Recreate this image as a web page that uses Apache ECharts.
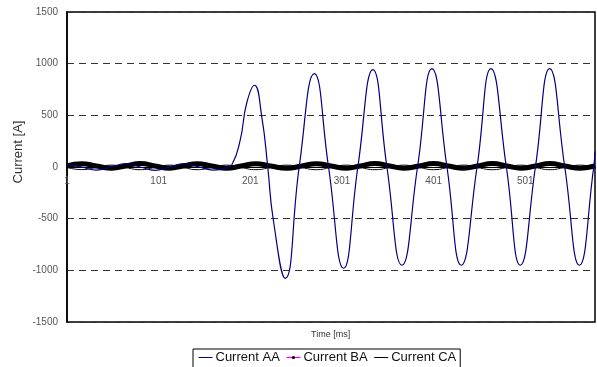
<!DOCTYPE html>
<html>
<head>
<meta charset="utf-8">
<script src="https://cdn.jsdelivr.net/npm/echarts@6/dist/echarts.min.js"></script>
<style>html,body{margin:0;padding:0;background:#fff}#c{width:597px;height:367px}</style>
</head>
<body>
<div id="c"></div>
<script>
// Sample index (0-based; tick label shows index+1) and current in A
const seriesNames = ['Current AA', 'Current BA', 'Current CA'];
const yTicks = [-1500, -1000, -500, 0, 500, 1000, 1500];

const currentAA = [
  [0, 28], [16, 0], [32, -30], [48, 0], [64, 32], [80, 0], [96, -32], [112, 0], [128, 33], [144, 0],
  [160, -30], [172, -14], [180, 25], [189, 262], [196, 617], [204.5, 791], [212.5, 486], [219, 0],
  [225, -508], [238, -1077], [253.3, 0],
  [269.8, 904], [285.3, 0], [301.7, -980], [317.3, 0], [333.7, 943], [349, 0],
  [365.4, -951], [382.4, 0], [398.1, 952], [414.5, 0], [430.1, -951], [447.3, 0],
  [462.5, 952], [479.3, 0], [494.5, -951], [511, 0], [526.5, 952], [543, 0],
  [559, -951], [574.6, 0], [576, 150]
];

const currentBA = [
  [0, 10], [16, 32], [32, 10], [49, -12], [64, 10], [80, 33], [96, 10], [112, -12], [127, 10],
  [142, 32], [158, 10], [174, -12], [190, 10], [206, 32], [222, 10], [240, -12], [256, 10],
  [272, 32], [288, 10], [305, -12], [320, 10], [336, 33], [352, 10], [367, -12], [384, 10],
  [400, 33], [416, 10], [433, -12], [448, 10], [464, 33], [480, 10], [495, -12], [511, 10],
  [527, 33], [543, 10], [560, -12], [576, 10]
];

const currentCA = [
  [0, -5], [16, -25], [32, -5], [49, 18], [64, -5], [80, -26], [96, -5], [112, 18], [127, -5],
  [142, -26], [158, -5], [174, 18], [190, -5], [206, -26], [222, -5], [240, 18], [256, -5],
  [272, -26], [288, -5], [305, 18], [320, -5], [336, -26], [352, -5], [367, 18], [384, -5],
  [400, -26], [416, -5], [433, 18], [448, -5], [464, -26], [480, -5], [495, 18], [511, -5],
  [527, -26], [543, -5], [560, 18], [576, -5]
];

const GRID_TOP = 12, GRID_BOTTOM = 45, H = 367;
const plotH = H - GRID_TOP - GRID_BOTTOM;
// place the x axis at y = 0 (middle of symmetric y range)
const zeroOffset = -plotH * (0 - yTicks[0]) / (yTicks[yTicks.length - 1] - yTicks[0]);

const chart = echarts.init(document.getElementById('c'), null, {renderer: 'canvas'});
const FONT = 'Liberation Sans, Arial, sans-serif';
const noSym = {opacity: 0, color: 'rgba(0,0,0,0)', borderWidth: 0};
chart.setOption({
  animation: false,
  backgroundColor: '#fff',
  textStyle: {fontFamily: FONT},
  title: {
    text: 'Time [ms]',
    left: 311, top: 330,
    textStyle: {fontSize: 9, fontWeight: 'normal', color: '#333', fontFamily: FONT},
    padding: 0
  },
  grid: {
    left: 67, right: 2, top: GRID_TOP, bottom: GRID_BOTTOM,
    show: true, borderColor: '#000', borderWidth: 1.5, backgroundColor: 'transparent'
  },
  legend: {
    data: [
      {name: seriesNames[0], itemStyle: noSym, lineStyle: {color: '#000080', width: 1}},
      {name: seriesNames[1], lineStyle: {color: '#ff00ff', width: 1.2}, itemStyle: {color: '#000'}},
      {name: seriesNames[2], itemStyle: noSym, lineStyle: {color: '#000', width: 1}}
    ],
    left: 193, top: 349,
    orient: 'horizontal',
    borderColor: '#000', borderWidth: 1,
    padding: [2, 4, 6, 5],
    itemWidth: 14, itemHeight: 4, itemGap: 6,
    textStyle: {fontSize: 13, color: '#111', fontFamily: FONT, padding: [0, 0, 0, -2]}
  },
  xAxis: {
    type: 'value',
    position: 'bottom',
    offset: zeroOffset,
    min: 0, max: 576, interval: 100,
    axisLine: {show: true, onZero: false, lineStyle: {color: '#000', width: 1}},
    axisTick: {show: false},
    splitLine: {show: false},
    axisLabel: {
      color: '#555', fontSize: 10, margin: 9, showMaxLabel: false,
      formatter: v => String(v + 1)
    }
  },
  yAxis: {
    type: 'value',
    min: yTicks[0], max: yTicks[yTicks.length - 1], interval: 500,
    name: 'Current [A]',
    nameLocation: 'middle',
    nameGap: 42,
    nameMoveOverlap: false,
    nameTextStyle: {fontSize: 13, color: '#333', fontFamily: FONT, padding: [0, 0, 0, 30]},
    axisLine: {show: true, onZero: false, lineStyle: {color: '#000', width: 1.5}},
    axisTick: {show: false},
    axisLabel: {color: '#555', fontSize: 10, margin: 9, formatter: v => String(v)},
    splitLine: {show: true, lineStyle: {color: '#333', width: 1, type: [7, 5]}}
  },
  series: [
    {
      name: seriesNames[0], type: 'line', data: currentAA,
      smooth: 0.5, symbol: 'none', z: 4,
      lineStyle: {color: '#000080', width: 1.2}, itemStyle: {color: '#000080'}
    },
    {
      name: seriesNames[1], type: 'line', data: currentBA,
      smooth: 0.5, symbol: 'circle', symbolSize: 3, showSymbol: false, z: 3,
      lineStyle: {color: '#000', width: 5}, itemStyle: {color: '#000'}
    },
    {
      name: seriesNames[2], type: 'line', data: currentCA,
      smooth: 0.5, symbol: 'none', z: 2,
      lineStyle: {color: '#000', width: 1}, itemStyle: {color: '#000'}
    }
  ]
});
</script>
</body>
</html>
